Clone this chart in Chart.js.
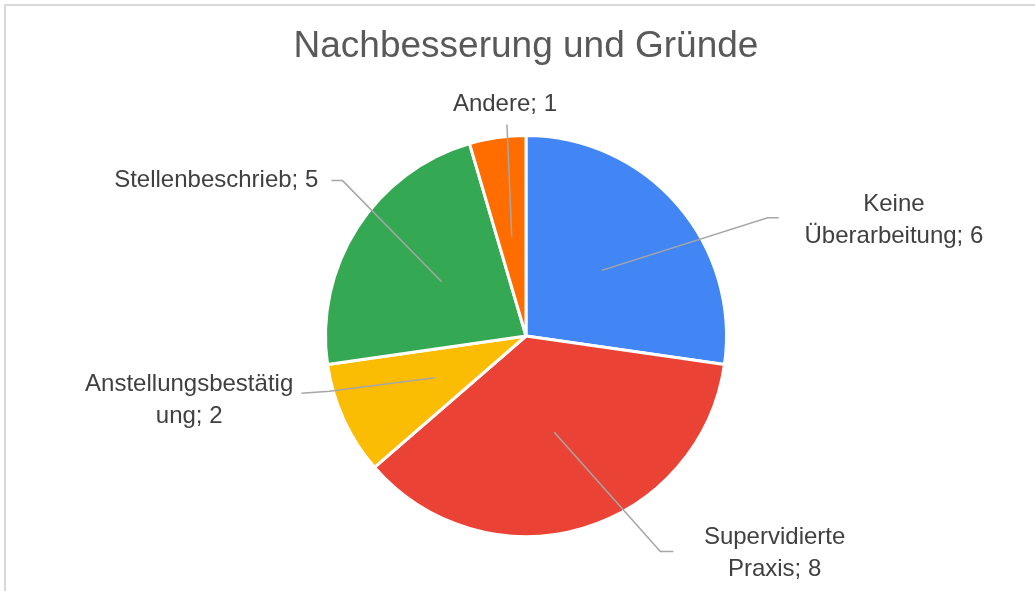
<!DOCTYPE html>
<html>
<head>
<meta charset="utf-8">
<script src="https://cdn.jsdelivr.net/npm/chart.js@4.4.1/dist/chart.umd.min.js"></script>
<style>
  html, body { margin: 0; padding: 0; background: #fff; }
  #wrap { width: 1035px; height: 591px; position: relative; }
</style>
</head>
<body>
<div id="wrap"><canvas id="pie"></canvas></div>
<script>
// data
const chartTitle = 'Nachbesserung und Gründe';
const categories = ['Keine Überarbeitung', 'Supervidierte Praxis', 'Anstellungsbestätigung', 'Stellenbeschrieb', 'Andere'];
const counts = [6, 8, 2, 5, 1];
const sliceColors = ['#4285F4', '#EA4335', '#FBBC04', '#34A853', '#FF6D01'];
const labelLines = [
  ['Keine', 'Überarbeitung; 6'],
  ['Supervidierte', 'Praxis; 8'],
  ['Anstellungsbestätig', 'ung; 2'],
  ['Stellenbeschrieb; 5'],
  ['Andere; 1']
];

// where each callout goes, in units of the pie radius from the centre
// elbow = bend of the leader line, tail = end of the line, text = centre of first text line
const callouts = [
  { elbow: [1.205, -0.59], tail: [1.26, -0.59], text: [1.835, -0.655] },
  { elbow: [0.67, 1.075], tail: [0.735, 1.075], text: [1.24, 1.005] },
  { elbow: [-0.98, 0.275], tail: [-1.12, 0.285], text: [-1.68, 0.24] },
  { elbow: [-0.915, -0.775], tail: [-0.97, -0.775], text: [-1.545, -0.775] },
  { elbow: [-0.095, -1.055], tail: [-0.095, -1.055], text: [-0.105, -1.155] }
];

const calloutPlugin = {
  id: 'callouts',
  beforeDraw(chart) {
    const ctx = chart.ctx;
    ctx.save();
    // chart frame
    ctx.strokeStyle = '#d9d9d9';
    ctx.lineWidth = 2;
    ctx.strokeRect(5, 5, 1200, 800);
    // title, centred over the pie
    const area = chart.chartArea;
    ctx.fillStyle = '#595959';
    ctx.font = '37px "Liberation Sans", Arial, sans-serif';
    ctx.textAlign = 'center';
    ctx.textBaseline = 'middle';
    ctx.fillText(chartTitle, (area.left + area.right) / 2, 47);
    ctx.restore();
  },
  afterDatasetsDraw(chart) {
    const ctx = chart.ctx;
    const meta = chart.getDatasetMeta(0);
    ctx.save();
    meta.data.forEach((arc, i) => {
      const R = arc.outerRadius;
      const cx = arc.x, cy = arc.y;
      const mid = (arc.startAngle + arc.endAngle) / 2;
      const ax = cx + Math.cos(mid) * R * 0.5;
      const ay = cy + Math.sin(mid) * R * 0.5;
      const c = callouts[i];
      ctx.strokeStyle = '#a6a6a6';
      ctx.lineWidth = 1.5;
      ctx.beginPath();
      ctx.moveTo(ax, ay);
      ctx.lineTo(cx + c.elbow[0] * R, cy + c.elbow[1] * R);
      ctx.lineTo(cx + c.tail[0] * R, cy + c.tail[1] * R);
      ctx.stroke();

      ctx.fillStyle = '#404040';
      ctx.font = '24px "Liberation Sans", Arial, sans-serif';
      ctx.textAlign = 'center';
      ctx.textBaseline = 'middle';
      labelLines[i].forEach((line, k) => {
        ctx.fillText(line, cx + c.text[0] * R, cy + c.text[1] * R + k * 32);
      });
    });
    ctx.restore();
  }
};

new Chart(document.getElementById('pie').getContext('2d'), {
  type: 'pie',
  data: {
    labels: categories,
    datasets: [{
      data: counts,
      backgroundColor: sliceColors,
      borderColor: '#ffffff',
      borderWidth: 3
    }]
  },
  options: {
    responsive: true,
    maintainAspectRatio: false,
    animation: false,
    layout: { padding: { left: 324, right: 307, top: 134, bottom: 53 } },
    plugins: {
      legend: { display: false },
      tooltip: { enabled: false },
      title: { display: false }
    }
  },
  plugins: [calloutPlugin]
});
</script>
</body>
</html>
